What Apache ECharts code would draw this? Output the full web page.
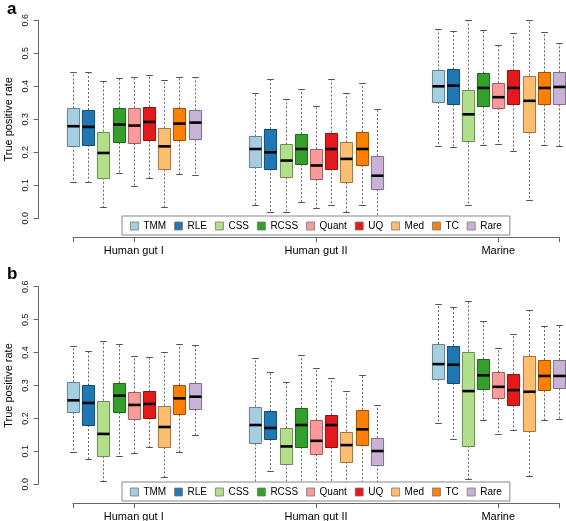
<!DOCTYPE html>
<html><head><meta charset="utf-8">
<script src="https://cdn.jsdelivr.net/npm/echarts@6/dist/echarts.min.js"></script>
<style>html,body{margin:0;padding:0;background:#fff}#c{width:566px;height:521px}</style>
</head><body><div id="c"></div>
<script>
// ---- data ----
const groups = ['Human gut I', 'Human gut II', 'Marine'];
const methods = ['TMM', 'RLE', 'CSS', 'RCSS', 'Quant', 'UQ', 'Med', 'TC', 'Rare'];
const colors = ['#A6CEE3', '#1F78B4', '#B2DF8A', '#33A02C', '#FB9A99', '#E31A1C', '#FDBF6F', '#FF7F00', '#CAB2D6'];
const yTickValues = [0, 0.1, 0.2, 0.3, 0.4, 0.5, 0.6];
// each row: [min, Q1, median, Q3, max], rows in methods order
const aGut1 = [
  [0.111, 0.220, 0.279, 0.333, 0.443],
  [0.109, 0.223, 0.277, 0.328, 0.443],
  [0.035, 0.123, 0.198, 0.263, 0.416],
  [0.138, 0.230, 0.284, 0.333, 0.424],
  [0.098, 0.227, 0.281, 0.335, 0.427],
  [0.121, 0.236, 0.292, 0.338, 0.433],
  [0.033, 0.148, 0.218, 0.273, 0.418],
  [0.134, 0.236, 0.287, 0.333, 0.427],
  [0.131, 0.239, 0.290, 0.327, 0.427]
];
const aGut2 = [
  [0.039, 0.156, 0.210, 0.248, 0.379],
  [0.019, 0.149, 0.200, 0.270, 0.421],
  [0.019, 0.124, 0.175, 0.224, 0.361],
  [0.049, 0.164, 0.210, 0.255, 0.391],
  [0.030, 0.118, 0.160, 0.209, 0.339],
  [0.039, 0.149, 0.210, 0.260, 0.421],
  [0.019, 0.109, 0.180, 0.230, 0.379],
  [0.039, 0.161, 0.210, 0.261, 0.409],
  [0.002, 0.088, 0.129, 0.189, 0.331]
];
const aMarine = [
  [0.219, 0.352, 0.400, 0.448, 0.573],
  [0.216, 0.345, 0.402, 0.452, 0.567],
  [0.039, 0.233, 0.315, 0.390, 0.600],
  [0.221, 0.339, 0.395, 0.439, 0.570],
  [0.224, 0.334, 0.367, 0.409, 0.524],
  [0.203, 0.345, 0.395, 0.448, 0.561],
  [0.055, 0.261, 0.356, 0.432, 0.600],
  [0.221, 0.345, 0.395, 0.442, 0.564],
  [0.219, 0.345, 0.398, 0.442, 0.531]
];
const bGut1 = [
  [0.097, 0.219, 0.255, 0.310, 0.420],
  [0.077, 0.180, 0.247, 0.300, 0.404],
  [0.009, 0.085, 0.153, 0.254, 0.434],
  [0.085, 0.219, 0.269, 0.307, 0.427],
  [0.094, 0.197, 0.241, 0.279, 0.390],
  [0.112, 0.202, 0.244, 0.282, 0.386],
  [0.022, 0.112, 0.174, 0.239, 0.401],
  [0.097, 0.212, 0.261, 0.301, 0.425],
  [0.149, 0.228, 0.266, 0.307, 0.423]
];
const bGut2 = [
  [0.002, 0.124, 0.180, 0.236, 0.383],
  [0.039, 0.137, 0.171, 0.222, 0.340],
  [0.002, 0.063, 0.115, 0.170, 0.310],
  [0.002, 0.114, 0.180, 0.231, 0.393],
  [0.002, 0.091, 0.132, 0.195, 0.352],
  [0.002, 0.114, 0.180, 0.211, 0.322],
  [0.002, 0.069, 0.119, 0.160, 0.282],
  [0.002, 0.120, 0.167, 0.226, 0.331],
  [0.002, 0.060, 0.101, 0.141, 0.240]
];
const bMarine = [
  [0.185, 0.319, 0.365, 0.426, 0.548],
  [0.138, 0.308, 0.363, 0.420, 0.537],
  [0.015, 0.117, 0.283, 0.403, 0.556],
  [0.195, 0.288, 0.331, 0.380, 0.495],
  [0.152, 0.261, 0.296, 0.340, 0.413],
  [0.165, 0.240, 0.286, 0.334, 0.455],
  [0.025, 0.162, 0.281, 0.390, 0.529],
  [0.195, 0.285, 0.329, 0.377, 0.481],
  [0.198, 0.291, 0.329, 0.377, 0.483]
];
const panels = [
  { label: 'a', groupsData: [aGut1, aGut2, aMarine] },
  { label: 'b', groupsData: [bGut1, bGut2, bMarine] }
];

// ---- layout helpers ----
const FONT = '"Liberation Sans", Arial, sans-serif';
const slotsPerGroup = 12; // 9 boxes + 3 empty slots
const posOf = (g, m) => g * slotsPerGroup + m + 1;
const groupCenters = groups.map((_, g) => posOf(g, 4));
const xMin = posOf(0, 0), xMax = posOf(groups.length - 1, methods.length - 1);

function darker(hex, f) {
  const n = parseInt(hex.slice(1), 16);
  const r = Math.round(((n >> 16) & 255) * f), g = Math.round(((n >> 8) & 255) * f), b = Math.round((n & 255) * f);
  return 'rgb(' + r + ',' + g + ',' + b + ')';
}

function makeRenderer(fill, stroke) {
  return function (params, api) {
    const x = api.value(0);
    const pMin = api.coord([x, api.value(1)]);
    const pQ1 = api.coord([x, api.value(2)]);
    const pMed = api.coord([x, api.value(3)]);
    const pQ3 = api.coord([x, api.value(4)]);
    const pMax = api.coord([x, api.value(5)]);
    const bw = api.size([0.8, 0])[0];
    const cw = bw * 0.55;
    const cx = Math.round(pMed[0]) + 0.5;
    const r = v => Math.round(v) + 0.5;
    const dash = { stroke: '#666', lineWidth: 1, lineDash: [2, 2] };
    const cap = { stroke: '#555', lineWidth: 1 };
    return {
      type: 'group',
      children: [
        { type: 'line', shape: { x1: cx, y1: pQ3[1], x2: cx, y2: r(pMax[1]) }, style: dash },
        { type: 'line', shape: { x1: cx, y1: pQ1[1], x2: cx, y2: r(pMin[1]) }, style: dash },
        { type: 'line', shape: { x1: cx - cw / 2, y1: r(pMax[1]), x2: cx + cw / 2, y2: r(pMax[1]) }, style: cap },
        { type: 'line', shape: { x1: cx - cw / 2, y1: r(pMin[1]), x2: cx + cw / 2, y2: r(pMin[1]) }, style: cap },
        { type: 'rect', shape: { x: cx - bw / 2, y: r(pQ3[1]), width: bw, height: r(pQ1[1]) - r(pQ3[1]) },
          style: { fill: fill, stroke: stroke, lineWidth: 1 } },
        { type: 'line', shape: { x1: cx - bw / 2, y1: pMed[1], x2: cx + bw / 2, y2: pMed[1] },
          style: { stroke: '#000', lineWidth: 2.6 } }
      ]
    };
  };
}

const grids = [
  { left: 73, right: 7, top: 20.3, height: 198, containLabel: false, outerBoundsMode: 'none' },
  { left: 73, right: 7, top: 286.7, height: 197.6, containLabel: false, outerBoundsMode: 'none' }
];
const legendTops = [216, 482];

const option = {
  animation: false,
  backgroundColor: '#fff',
  textStyle: { fontFamily: FONT },
  title: panels.map((p, i) => ({
    text: p.label, left: 2, top: i === 0 ? -4 : 261,
    textStyle: { fontSize: 17, fontWeight: 'bold', color: '#000', fontFamily: FONT }
  })),
  grid: grids,
  xAxis: panels.map((p, i) => ({
    type: 'value', gridIndex: i, min: xMin, max: xMax, offset: 19,
    axisLine: { show: true, onZero: false, lineStyle: { color: '#666', width: 1 } },
    axisTick: { show: true, customValues: [xMin].concat(groupCenters, [xMax]), length: 5, lineStyle: { color: '#666' } },
    axisLabel: {
      customValues: groupCenters, fontSize: 11, color: '#000', margin: 8, fontFamily: FONT,
      formatter: v => groups[groupCenters.indexOf(v)]
    },
    splitLine: { show: false }
  })),
  yAxis: panels.map((p, i) => ({
    type: 'value', gridIndex: i, min: yTickValues[0], max: yTickValues[yTickValues.length - 1], interval: 0.1, offset: 34.5,
    name: 'True positive rate', nameLocation: 'middle', nameGap: 24, nameMoveOverlap: false,
    nameTextStyle: { fontSize: 11, color: '#000', fontFamily: FONT },
    axisLine: { show: true, lineStyle: { color: '#666', width: 1 } },
    axisTick: { show: true, length: 5, lineStyle: { color: '#666' } },
    axisLabel: { rotate: 90, fontSize: 9, color: '#111', margin: 8, fontFamily: FONT, formatter: v => v.toFixed(1) },
    splitLine: { show: false }
  })),
  legend: legendTops.map(t => ({
    data: methods, top: t, left: 122, orient: 'horizontal',
    icon: 'rect', itemWidth: 8, itemHeight: 8, itemGap: 8,
    selectedMode: false,
    textStyle: { fontSize: 10, color: '#000', fontFamily: FONT },
    itemStyle: { borderColor: '#777', borderWidth: 0.8 },
    backgroundColor: '#fff', borderColor: '#888', borderWidth: 1, borderRadius: 0,
    padding: [5, 8, 4, 8]
  })),
  series: []
};

panels.forEach((p, pi) => {
  methods.forEach((m, mi) => {
    option.series.push({
      type: 'custom', name: m, xAxisIndex: pi, yAxisIndex: pi,
      itemStyle: { color: colors[mi] },
      renderItem: makeRenderer(colors[mi], darker(colors[mi], 0.62)),
      encode: { x: 0, y: [1, 2, 3, 4, 5] },
      data: p.groupsData.map((gd, gi) => [posOf(gi, mi)].concat(gd[mi]))
    });
  });
});

const chart = echarts.init(document.getElementById('c'), null, { renderer: 'canvas' });
chart.setOption(option);
</script></body></html>
